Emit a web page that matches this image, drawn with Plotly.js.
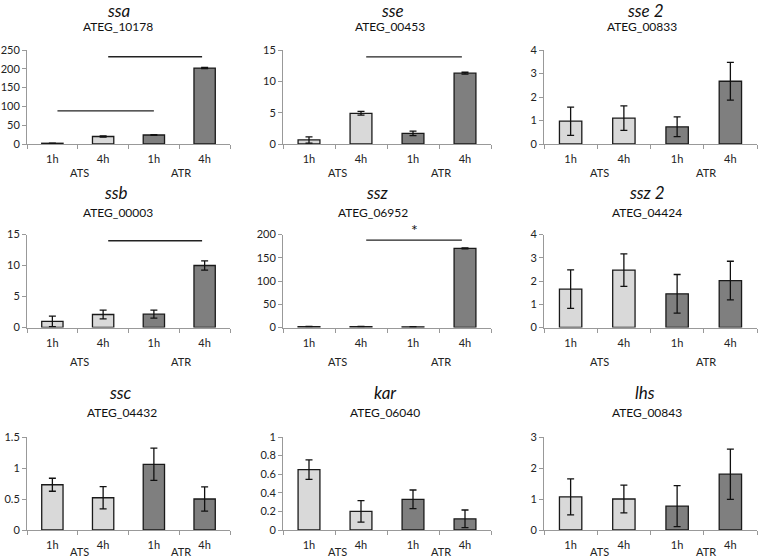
<!DOCTYPE html>
<html>
<head>
<meta charset="utf-8">
<script src="https://cdn.plot.ly/plotly-3.0.1.min.js"></script>
<style>html,body{margin:0;padding:0;background:#fff;}#chart{width:760px;height:559px;}</style>
</head>
<body>
<div id="chart"></div>
<script>
// ---- data ----
const genes   = ['ssa', 'sse', 'sse 2', 'ssb', 'ssz', 'ssz 2', 'ssc', 'kar', 'lhs'];
const geneIds = ['ATEG_10178', 'ATEG_00453', 'ATEG_00833', 'ATEG_00003', 'ATEG_06952', 'ATEG_04424', 'ATEG_04432', 'ATEG_06040', 'ATEG_00843'];
const timeLabels = ['1h', '4h', '1h', '4h'];
const groupLabels = ['ATS', 'ATR'];
const groupOfBar = ['ATS', 'ATS', 'ATR', 'ATR'];

const ssaMean  = [2, 20, 24, 202];        const ssaErr  = [0.5, 1.5, 1, 1.5];
const sseMean  = [0.65, 4.9, 1.7, 11.3];  const sseErr  = [0.5, 0.3, 0.35, 0.15];
const sse2Mean = [0.97, 1.1, 0.73, 2.67]; const sse2Err = [0.6, 0.52, 0.42, 0.8];
const ssbMean  = [1.0, 2.1, 2.15, 10.0];  const ssbErr  = [0.85, 0.7, 0.65, 0.75];
const sszMean  = [2, 2, 1.5, 170];        const sszErr  = [0.3, 0.3, 0.3, 1];
const ssz2Mean = [1.65, 2.47, 1.45, 2.02];const ssz2Err = [0.83, 0.7, 0.83, 0.83];
const sscMean  = [0.73, 0.52, 1.06, 0.50];const sscErr  = [0.105, 0.18, 0.26, 0.195];
const karMean  = [0.65, 0.20, 0.33, 0.12];const karErr  = [0.105, 0.115, 0.1, 0.095];
const lhsMean  = [1.07, 1.0, 0.77, 1.8];  const lhsErr  = [0.58, 0.45, 0.66, 0.81];

const yMax  = [250, 15, 4, 15, 200, 4, 1.5, 1, 3];
const yStep = [50, 5, 1, 5, 50, 1, 0.5, 0.2, 1];

// significance brackets: [panel, xFrom, xTo, yValue, label]
const sigPanel = [0, 0, 1, 3, 4];
const sigFrom  = [0.1, 1.1, 1.1, 1.1, 1.1];
const sigTo    = [2.0, 2.95, 2.94, 2.95, 2.94];
const sigY     = [88, 232, 13.9, 14, 188];
const sigText  = ['', '', '', '', '*'];

const means = [ssaMean, sseMean, sse2Mean, ssbMean, sszMean, ssz2Mean, sscMean, karMean, lhsMean];
const errs  = [ssaErr, sseErr, sse2Err, ssbErr, sszErr, ssz2Err, sscErr, karErr, lhsErr];
const barColors = groupOfBar.map(g => g === 'ATS' ? '#d9d9d9' : '#7f7f7f');

// ---- layout geometry (pixels) ----
const W = 760, H = 559;
const colPx = [[27, 230], [283, 491], [544, 757]];
const rowPx = [[50, 144], [234.5, 327.5], [437, 530]];
const titleY = [10, 193, 392];
const subY   = [27, 212, 412];
const groupY = [173, 361, 551];
const titleX = [[118, 392, 645], [116, 377, 647], [120, 385, 645]];
const subX   = [[118, 390, 642], [118, 373, 647], [122, 385, 647]];
const px = v => v / W;
const py = v => 1 - v / H;

const FONT = 'Lato, "Open Sans", sans-serif';
const traces = [];
const layout = {
  width: W, height: H,
  margin: {l: 0, r: 0, t: 0, b: 0},
  paper_bgcolor: '#fff', plot_bgcolor: '#fff',
  showlegend: false,
  font: {family: FONT, size: 11, color: '#222'},
  annotations: [], shapes: []
};

for (let i = 0; i < 9; i++) {
  const r = Math.floor(i / 3), c = i % 3;
  const s = i === 0 ? '' : String(i + 1);
  const xa = 'x' + s, ya = 'y' + s;
  traces.push({
    type: 'bar', x: [0, 1, 2, 3], y: means[i],
    xaxis: xa, yaxis: ya, width: 0.42,
    marker: {color: barColors, line: {color: '#1a1a1a', width: 1.3}},
    error_y: {type: 'data', array: errs[i], visible: true, color: '#111', thickness: 1.3, width: 3.5},
    hoverinfo: 'skip'
  });
  layout['xaxis' + s] = {
    domain: [px(colPx[c][0]), px(colPx[c][1])], anchor: ya,
    range: [-0.5, 3.5], fixedrange: true,
    tickmode: 'array', tickvals: [0, 1, 2, 3], ticktext: timeLabels, ticks: '',
    ticklabelstandoff: 5,
    minor: {tickmode: 'array', tickvals: [-0.5, 0.5, 1.5, 2.5, 3.5], ticks: 'outside', ticklen: 4, tickcolor: '#999', showgrid: false},
    showline: true, linecolor: '#999', linewidth: 1, showgrid: false, zeroline: false,
    tickfont: {family: FONT, size: 11, color: '#222'}
  };
  layout['yaxis' + s] = {
    domain: [py(rowPx[r][1]), py(rowPx[r][0])], anchor: xa,
    range: [0, yMax[i]], dtick: yStep[i], tick0: 0, fixedrange: true,
    ticks: 'outside', ticklen: 4, tickcolor: '#999',
    showline: true, linecolor: '#999', linewidth: 1, showgrid: false, zeroline: false,
    tickfont: {family: FONT, size: 11, color: '#222'}
  };
  // titles
  layout.annotations.push({
    text: genes[i], xref: 'paper', yref: 'paper', x: px(titleX[r][c]), y: py(titleY[r]),
    xanchor: 'center', yanchor: 'middle', showarrow: false,
    font: {family: FONT, size: 17, color: '#111', style: 'italic'}
  });
  layout.annotations.push({
    text: geneIds[i], xref: 'paper', yref: 'paper', x: px(subX[r][c]), y: py(subY[r]),
    xanchor: 'center', yanchor: 'middle', showarrow: false,
    font: {family: FONT, size: 12, color: '#111'}
  });
  // group labels
  groupLabels.forEach((g, k) => {
    layout.annotations.push({
      text: g, xref: xa, yref: 'paper', x: 0.5 + 2 * k, y: py(groupY[r]),
      xanchor: 'center', yanchor: 'middle', showarrow: false, xshift: 2,
      font: {family: FONT, size: 11, color: '#222'}
    });
  });
}

for (let k = 0; k < sigPanel.length; k++) {
  const i = sigPanel[k];
  const s = i === 0 ? '' : String(i + 1);
  layout.shapes.push({
    type: 'line', xref: 'x' + s, yref: 'y' + s,
    x0: sigFrom[k], x1: sigTo[k], y0: sigY[k], y1: sigY[k],
    line: {color: '#222', width: 1.4}
  });
  if (sigText[k]) {
    layout.annotations.push({
      text: sigText[k], xref: 'x' + s, yref: 'y' + s,
      x: (sigFrom[k] + sigTo[k]) / 2, y: sigY[k], yanchor: 'bottom', yshift: -1,
      showarrow: false, font: {family: FONT, size: 16, color: '#111'}
    });
  }
}

Plotly.newPlot('chart', traces, layout, {staticPlot: true, displayModeBar: false});
</script>
</body>
</html>
